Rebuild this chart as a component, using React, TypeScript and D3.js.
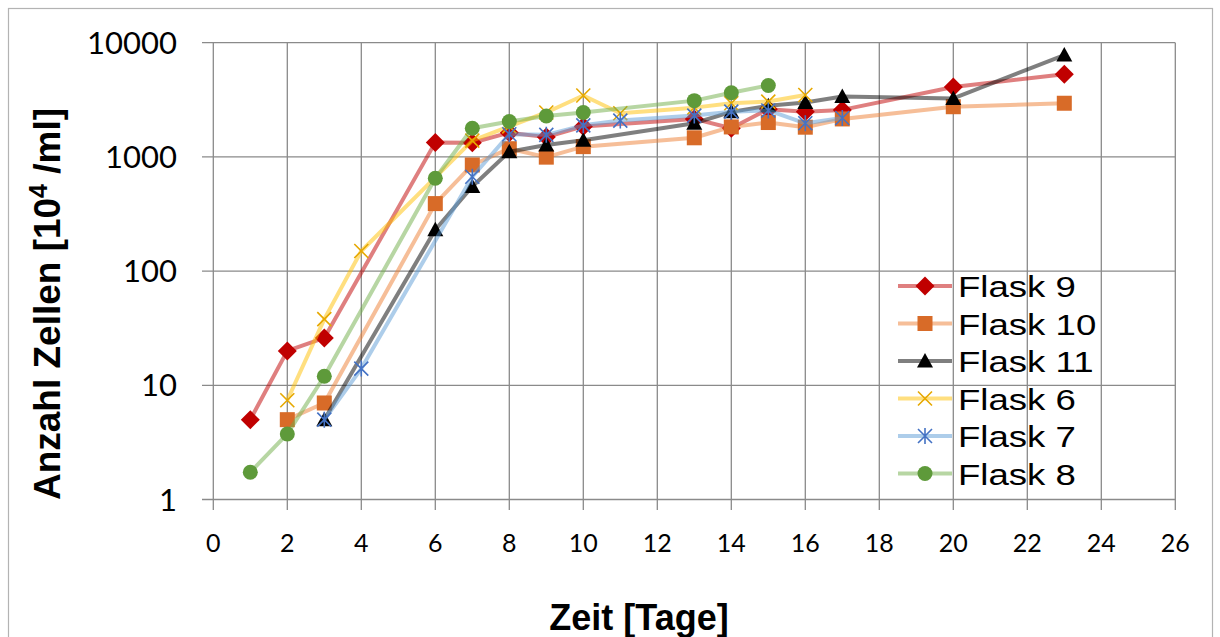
import React from 'react'
import * as d3 from 'd3'

// Zellzahlen pro Flask (Tag, Anzahl Zellen in 10^4/ml)
const flask9Days = [1, 2, 3, 6, 7, 8, 9, 10, 13, 14, 15, 16, 17, 20, 23]
const flask9Vals = [5, 20, 26, 1340, 1330, 1630, 1490, 1850, 2150, 1780, 2620, 2490, 2580, 4100, 5300]

const flask10Days = [2, 3, 6, 7, 8, 9, 10, 13, 14, 15, 16, 17, 20, 23]
const flask10Vals = [5, 7, 390, 850, 1180, 995, 1230, 1470, 1830, 2000, 1820, 2150, 2750, 2950]

const flask11Days = [3, 6, 7, 8, 9, 10, 13, 14, 15, 16, 17, 20, 23]
const flask11Vals = [5, 230, 550, 1110, 1270, 1400, 1970, 2480, 2800, 3000, 3380, 3250, 7800]

const flask6Days = [2, 3, 4, 7, 8, 9, 10, 11, 13, 14, 15, 16]
const flask6Vals = [7.4, 38, 150, 1390, 1850, 2450, 3450, 2410, 2700, 2950, 3050, 3480]

const flask7Days = [3, 4, 7, 8, 9, 10, 11, 13, 14, 15, 16, 17]
const flask7Vals = [5, 14, 670, 1580, 1560, 1890, 2080, 2300, 2490, 2550, 1970, 2190]

const flask8Days = [1, 2, 3, 6, 7, 8, 9, 10, 13, 14, 15]
const flask8Vals = [1.73, 3.75, 12, 650, 1780, 2040, 2280, 2450, 3110, 3650, 4220]

const xTicks = d3.range(0, 27, 2)
const yTicks = [1, 10, 100, 1000, 10000]

const series = [
  { name: 'Flask 9', days: flask9Days, vals: flask9Vals, line: '#c00000', mark: '#c00000', shape: 'diamond' },
  { name: 'Flask 10', days: flask10Days, vals: flask10Vals, line: '#ed7d31', mark: '#d86b28', shape: 'square' },
  { name: 'Flask 11', days: flask11Days, vals: flask11Vals, line: '#000000', mark: '#000000', shape: 'triangle' },
  { name: 'Flask 6', days: flask6Days, vals: flask6Vals, line: '#ffc000', mark: '#e6a800', shape: 'x' },
  { name: 'Flask 7', days: flask7Days, vals: flask7Vals, line: '#5b9bd5', mark: '#4472c4', shape: 'star' },
  { name: 'Flask 8', days: flask8Days, vals: flask8Vals, line: '#70ad47', mark: '#5e9a3a', shape: 'circle' },
]

const Marker = ({ shape, x, y, color }) => {
  if (shape === 'diamond')
    return <path d={`M${x},${y - 9.5}L${x + 9.5},${y}L${x},${y + 9.5}L${x - 9.5},${y}Z`} fill={color} />
  if (shape === 'square')
    return <rect x={x - 7.5} y={y - 7.5} width={15} height={15} fill={color} />
  if (shape === 'triangle')
    return <path d={`M${x},${y - 8}L${x + 8},${y + 6.5}L${x - 8},${y + 6.5}Z`} fill={color} />
  if (shape === 'circle')
    return <circle cx={x} cy={y} r={7.5} fill={color} />
  if (shape === 'x')
    return <path d={`M${x - 7},${y - 7}L${x + 7},${y + 7}M${x - 7},${y + 7}L${x + 7},${y - 7}`} stroke={color} strokeWidth={1.6} />
  return (
    <path
      d={`M${x - 7},${y - 7}L${x + 7},${y + 7}M${x - 7},${y + 7}L${x + 7},${y - 7}M${x},${y - 8}L${x},${y + 8}`}
      stroke={color}
      strokeWidth={1.6}
    />
  )
}

const App = () => {
  const x = d3.scaleLinear().domain([0, 26]).range([213.3, 1175.3])
  const y = d3.scaleLog().domain([1, 10000]).range([499.5, 42.7])
  const line = d3.line<number>()
    .x(d => x(d[0]))
    .y(d => y(d[1]))

  const grid = '#8a8a8a'
  return (
    <svg width={1220} height={637} style={{ position: 'absolute', left: 0, top: 0, background: '#fff' }}>
      <rect x={8.5} y={8.5} width={1204} height={640} fill="none" stroke="#b3b3b3" strokeWidth={1.2} />

      {yTicks.map(t => (
        <g key={'y' + t}>
          <line x1={202} x2={x(26)} y1={y(t)} y2={y(t)} stroke={grid} strokeWidth={1.3} />
          <text x={177} y={y(t)} dy="0.36em" textAnchor="end" fontFamily="Lato" fontSize={31} fill="#000">{t}</text>
        </g>
      ))}
      {xTicks.map(t => (
        <g key={'x' + t}>
          <line x1={x(t)} x2={x(t)} y1={y(10000)} y2={510} stroke={grid} strokeWidth={1.3} />
          <text x={x(t)} y={552} textAnchor="middle" fontFamily="Lato" fontSize={25} fill="#000">{t}</text>
        </g>
      ))}

      {series.map(s => {
        const pts = s.days.map((d, i) => [d, s.vals[i]])
        return (
          <g key={s.name}>
            <path d={line(pts)} fill="none" stroke={s.line} strokeOpacity={0.5} strokeWidth={4} strokeLinejoin="round" />
            {pts.map((p, i) => (
              <Marker key={i} shape={s.shape} x={x(p[0])} y={y(p[1])} color={s.mark} />
            ))}
          </g>
        )
      })}

      {series.map((s, i) => {
        const cy = 286 + i * 37.5
        return (
          <g key={'leg' + s.name}>
            <line x1={898} x2={952} y1={cy} y2={cy} stroke={s.line} strokeOpacity={0.5} strokeWidth={4} />
            <Marker shape={s.shape} x={925} y={cy} color={s.mark} />
            <text transform={`translate(958,${cy + 11}) scale(1.22,1)`} fontFamily="Liberation Sans, Arial" fontSize={30} fill="#000">{s.name}</text>
          </g>
        )
      })}

      <text x={639} y={630} textAnchor="middle" fontFamily="Liberation Sans, Arial" fontWeight="bold" fontSize={36} fill="#000">Zeit [Tage]</text>
      <text transform="translate(60,304) rotate(-90)" textAnchor="middle" fontFamily="Liberation Sans, Arial" fontWeight="bold" fontSize={37} fill="#000">
        Anzahl Zellen [10<tspan fontSize={25} dy={-13}>4</tspan><tspan dy={13}> /ml]</tspan>
      </text>
    </svg>
  )
}

export default App
